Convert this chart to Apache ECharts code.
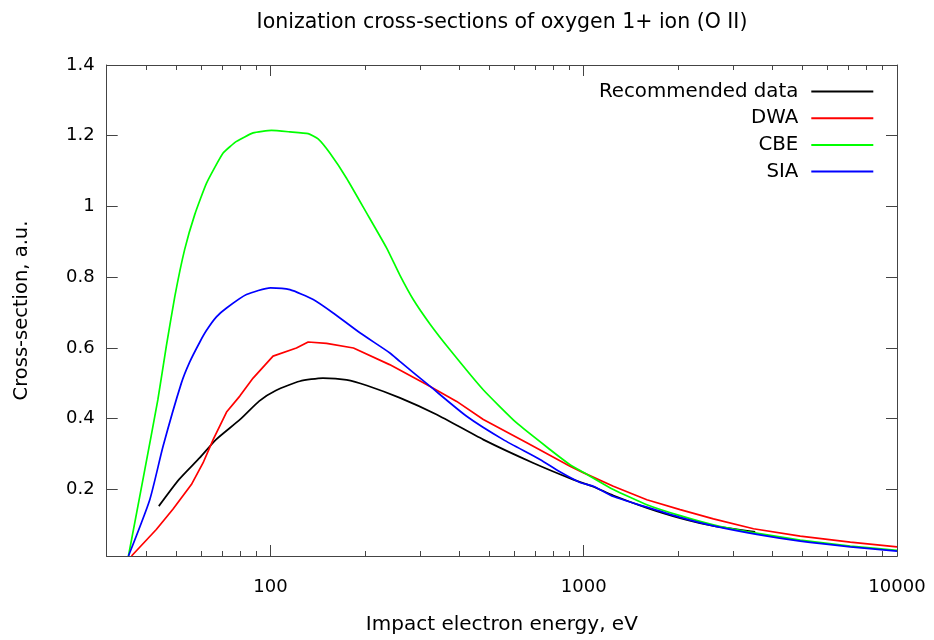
<!DOCTYPE html>
<html><head><meta charset="utf-8">
<script src="https://cdn.jsdelivr.net/npm/echarts@6/dist/echarts.min.js"></script>
<style>html,body{margin:0;padding:0;background:#fff}#c{width:934px;height:640px}</style>
</head><body><div id="c"></div>
<script>
// ---- data ----
const seriesNames = ['Recommended data', 'DWA', 'CBE', 'SIA'];
const seriesColors = ['#000000', '#ff0000', '#00ff00', '#0000ff'];

const recE = [44, 51, 59.5, 67, 80, 92, 104, 124, 147, 175, 203, 259, 339, 478, 690, 926, 1073, 1243, 1590, 2031, 2594, 3526];
const recV = [0.153, 0.228, 0.290, 0.341, 0.398, 0.450, 0.480, 0.506, 0.515, 0.510, 0.494, 0.459, 0.412, 0.341, 0.275, 0.228, 0.208, 0.183, 0.148, 0.119, 0.097, 0.080];

const dwaE = [36, 43.2, 48.8, 55.9, 60.9, 65.6, 72.4, 79.8, 88, 101.9, 121, 131.9, 151, 184, 240, 315, 393, 478, 658, 904, 1000, 1243, 1590, 2031, 2594, 3483, 4910, 7096, 10000];
const dwaV = [0.012, 0.087, 0.144, 0.214, 0.275, 0.341, 0.419, 0.464, 0.515, 0.577, 0.600, 0.617, 0.613, 0.600, 0.553, 0.497, 0.449, 0.398, 0.332, 0.266, 0.247, 0.209, 0.171, 0.143, 0.117, 0.089, 0.068, 0.051, 0.038];

const cbeE = [35.2, 39.7, 43.7, 46.5, 49.5, 53.2, 57.3, 62.5, 70.6, 77.9, 88, 100.7, 115.3, 131.9, 141.9, 154.7, 174.9, 202.6, 234.7, 258.8, 285.6, 322.8, 374, 477.6, 610.8, 780, 904, 1000, 1243, 1590, 2031, 2594, 3317, 4910, 7096, 10000];
const cbeV = [0.012, 0.256, 0.454, 0.605, 0.746, 0.878, 0.977, 1.066, 1.151, 1.184, 1.208, 1.215, 1.211, 1.206, 1.191, 1.151, 1.080, 0.982, 0.883, 0.806, 0.737, 0.668, 0.595, 0.482, 0.388, 0.313, 0.270, 0.248, 0.200, 0.157, 0.126, 0.100, 0.081, 0.057, 0.040, 0.028];

const siaE = [35.2, 41.2, 45.4, 51.9, 55.2, 59.5, 62.5, 67.2, 72.4, 83.8, 100, 115.3, 136.9, 158.5, 192.9, 240.5, 258.8, 322.8, 422.8, 553.5, 724.8, 839, 973, 1073, 1243, 1590, 2031, 2594, 3568, 4910, 7096, 10000];
const siaV = [0.012, 0.172, 0.322, 0.500, 0.560, 0.617, 0.650, 0.688, 0.713, 0.751, 0.770, 0.765, 0.737, 0.699, 0.643, 0.586, 0.562, 0.492, 0.407, 0.341, 0.285, 0.250, 0.220, 0.209, 0.180, 0.150, 0.121, 0.097, 0.073, 0.054, 0.038, 0.026];

const xMajorTicks = [100, 1000, 10000];
const xMinorTicks = [40, 50, 60, 70, 80, 90, 200, 300, 400, 500, 600, 700, 800, 900, 2000, 3000, 4000, 5000, 6000, 7000, 8000, 9000];
const yTicks = [0.2, 0.4, 0.6, 0.8, 1, 1.2, 1.4];
const xMin = 30, xMax = 10000, yMin = 0.012, yMax = 1.4;

// ---- chart ----
const FONT = 'DejaVu Sans';
const FS_TICK = 18;
const FS_TEXT = 19.8;
const frame = '#444444';
const chart = echarts.init(document.getElementById('c'), null, {renderer: 'canvas'});

function xAx(pos, ticks, len, showLabel, extra) {
  return Object.assign({
    type: 'log', logBase: 10, min: xMin, max: xMax, position: pos,
    axisLine: {show: true, onZero: false, lineStyle: {color: frame, width: 1}},
    axisTick: {show: true, inside: true, length: len, customValues: ticks, lineStyle: {color: frame, width: 1}},
    axisLabel: showLabel ? {show: true, customValues: ticks, color: '#000', fontFamily: FONT, fontSize: FS_TICK, margin: 22,
      formatter: v => String(Math.round(v))} : {show: false},
    splitLine: {show: false}, minorTick: {show: false}, minorSplitLine: {show: false}
  }, extra || {});
}
function yAx(pos, showLabel, extra) {
  return Object.assign({
    type: 'value', min: yMin, max: yMax, position: pos,
    axisLine: {show: true, onZero: false, lineStyle: {color: frame, width: 1}},
    axisTick: {show: true, inside: true, length: 11, customValues: yTicks, lineStyle: {color: frame, width: 1}},
    axisLabel: showLabel ? {show: true, customValues: yTicks, color: '#000', fontFamily: FONT, fontSize: FS_TICK, margin: 12,
      formatter: v => String(Math.round(v * 10) / 10)} : {show: false},
    splitLine: {show: false}
  }, extra || {});
}

const dataSets = [[recE, recV], [dwaE, dwaV], [cbeE, cbeV], [siaE, siaV]];
const smoothing = [0.2, 0, 0.15, 0.2];

chart.setOption({
  animation: false,
  backgroundColor: '#ffffff',
  textStyle: {fontFamily: FONT},
  title: {
    text: 'Ionization cross-sections of oxygen 1+ ion (O II)',
    left: 502, top: 12, textAlign: 'center', padding: 0,
    textStyle: {fontFamily: FONT, fontSize: 20.5, fontWeight: 'normal', color: '#000'}
  },
  grid: {left: 106.7, right: 37, top: 65, bottom: 83.3, containLabel: false},
  legend: {
    data: seriesNames,
    orient: 'vertical', align: 'right', padding: 0,
    right: 60.7, top: 81.5,
    itemWidth: 62, itemHeight: 14, itemGap: 6.7,
    icon: 'path://M0,6 L62,6 L62,8 L0,8 Z',
    textStyle: {fontFamily: FONT, fontSize: FS_TEXT, lineHeight: 20, color: '#000', padding: [0, 8, 0, 0]},
    selectedMode: false
  },
  xAxis: [
    xAx('bottom', xMajorTicks, 11, true, {name: 'Impact electron energy, eV', nameLocation: 'middle', nameGap: 59,
      nameTextStyle: {fontFamily: FONT, fontSize: 20, color: '#000'}}),
    xAx('bottom', xMinorTicks, 5, false),
    xAx('top', xMajorTicks, 11, false),
    xAx('top', xMinorTicks, 5, false)
  ],
  yAxis: [
    yAx('left', true, {name: 'Cross-section, a.u.', nameLocation: 'middle', nameGap: 75,
      nameTextStyle: {fontFamily: FONT, fontSize: 19.5, color: '#000'}}),
    yAx('right', false)
  ],
  series: seriesNames.map((n, i) => ({
    name: n, type: 'line', xAxisIndex: 0, yAxisIndex: 0,
    data: dataSets[i][0].map((e, j) => [e, dataSets[i][1][j]]),
    showSymbol: false, symbol: 'none', smooth: smoothing[i],
    lineStyle: {color: seriesColors[i], width: 1.7},
    itemStyle: {color: seriesColors[i]},
    z: 2 + i
  }))
});
</script></body></html>
